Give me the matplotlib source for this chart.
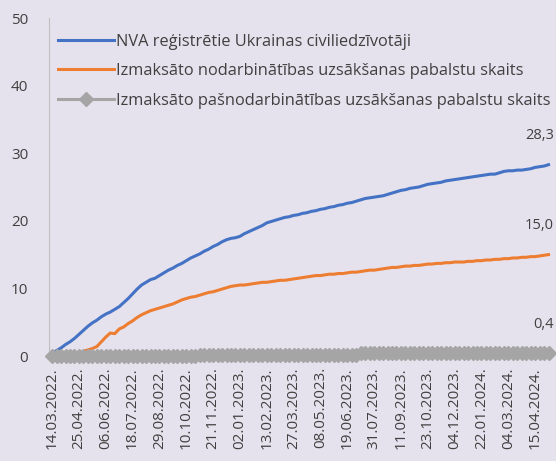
import matplotlib.pyplot as plt

# weekly series, thousands
nva = [0.4, 0.8, 1.2, 1.7, 2.1, 2.6, 3.2, 3.8, 4.4, 4.9,
       5.3, 5.8, 6.2, 6.5, 6.9, 7.3, 7.9, 8.5, 9.2, 9.9,
       10.5, 10.9, 11.3, 11.5, 11.9, 12.3, 12.7, 13.0, 13.4, 13.7,
       14.1, 14.5, 14.8, 15.1, 15.5, 15.8, 16.2, 16.5, 16.9, 17.2,
       17.4, 17.5, 17.7, 18.1, 18.4, 18.7, 19.0, 19.3, 19.7, 19.9,
       20.1, 20.3, 20.5, 20.6, 20.8, 20.9, 21.1, 21.2, 21.4, 21.5,
       21.7, 21.8, 22.0, 22.1, 22.3, 22.4, 22.6, 22.7, 22.9, 23.1,
       23.3, 23.4, 23.5, 23.6, 23.7, 23.9, 24.1, 24.3, 24.5, 24.6,
       24.8, 24.9, 25.0, 25.2, 25.4, 25.5, 25.6, 25.7, 25.9, 26.0,
       26.1, 26.2, 26.3, 26.4, 26.5, 26.6, 26.7, 26.8, 26.9, 26.9,
       27.1, 27.3, 27.4, 27.4, 27.5, 27.5, 27.6, 27.7, 27.9, 28.0,
       28.1, 28.3]
nodarb = [0.0, 0.0, 0.0, 0.0, 0.0, 0.0, 0.1, 0.7, 0.9, 1.1,
          1.4, 2.1, 2.8, 3.4, 3.3, 4.0, 4.3, 4.8, 5.2, 5.7,
          6.1, 6.4, 6.7, 6.9, 7.1, 7.3, 7.5, 7.7, 8.0, 8.3,
          8.5, 8.7, 8.8, 9.0, 9.2, 9.4, 9.5, 9.7, 9.9, 10.1,
          10.3, 10.4, 10.5, 10.5, 10.6, 10.7, 10.8, 10.9, 10.9, 11.0,
          11.1, 11.2, 11.2, 11.3, 11.4, 11.5, 11.6, 11.7, 11.8, 11.9,
          11.9, 12.0, 12.1, 12.1, 12.2, 12.2, 12.3, 12.4, 12.4, 12.5,
          12.6, 12.7, 12.7, 12.8, 12.9, 13.0, 13.1, 13.1, 13.2, 13.3,
          13.3, 13.4, 13.4, 13.5, 13.6, 13.6, 13.7, 13.7, 13.8, 13.8,
          13.9, 13.9, 13.9, 14.0, 14.0, 14.1, 14.1, 14.2, 14.2, 14.3,
          14.3, 14.4, 14.4, 14.5, 14.5, 14.6, 14.6, 14.7, 14.7, 14.8,
          14.9, 15.0]
pasnodarb = [0.0, 0.0, 0.0, 0.0, 0.0, 0.0, 0.0, 0.0, 0.0, 0.0,
             0.0, 0.0, 0.0, 0.0, 0.0, 0.0, 0.0, 0.0, 0.0, 0.0,
             0.0, 0.0, 0.0, 0.0, 0.0, 0.0, 0.0, 0.0, 0.0, 0.0,
             0.0, 0.0, 0.0, 0.2, 0.2, 0.2, 0.2, 0.2, 0.2, 0.2,
             0.2, 0.2, 0.2, 0.2, 0.2, 0.2, 0.2, 0.2, 0.2, 0.2,
             0.2, 0.2, 0.2, 0.2, 0.2, 0.2, 0.2, 0.2, 0.2, 0.2,
             0.2, 0.2, 0.2, 0.2, 0.2, 0.2, 0.2, 0.2, 0.2, 0.4,
             0.4, 0.4, 0.4, 0.4, 0.4, 0.4, 0.4, 0.4, 0.4, 0.4,
             0.4, 0.4, 0.4, 0.4, 0.4, 0.4, 0.4, 0.4, 0.4, 0.4,
             0.4, 0.4, 0.4, 0.4, 0.4, 0.4, 0.4, 0.4, 0.4, 0.4,
             0.4, 0.4, 0.4, 0.4, 0.4, 0.4, 0.4, 0.4, 0.4, 0.4,
             0.4, 0.4]
tick_labels = ['14.03.2022.', '25.04.2022.', '06.06.2022.', '18.07.2022.',
               '29.08.2022.', '10.10.2022.', '21.11.2022.', '02.01.2023.',
               '13.02.2023.', '27.03.2023.', '08.05.2023.', '19.06.2023.',
               '31.07.2023.', '11.09.2023.', '23.10.2023.', '04.12.2023.',
               '22.01.2024.', '04.03.2024.', '15.04.2024.']
names = ['NVA reģistrētie Ukrainas civiliedzīvotāji',
         'Izmaksāto nodarbinātības uzsākšanas pabalstu skaits',
         'Izmaksāto pašnodarbinātības uzsākšanas pabalstu skaits']

bg = '#E6E2ED'
txt = '#404040'
plt.rcParams['font.family'] = ['Open Sans', 'DejaVu Sans']

fig = plt.figure(figsize=(5.56, 4.61), dpi=100, facecolor=bg)
ax = fig.add_axes([49/556, 105/461, 504/556, 338/461], facecolor=bg)

x = list(range(len(nva)))
ax.plot(x, nva, color='#4472C4', lw=2.2, label=names[0], zorder=3)
ax.plot(x, nodarb, color='#ED7D31', lw=2.2, label=names[1], zorder=3)
ax.plot(x, pasnodarb, color='#A5A5A5', lw=2.2, marker='D', ms=7,
        label=names[2], clip_on=False, zorder=4)

for vals in (nva, nodarb, pasnodarb):
    ax.annotate(f'{vals[-1]:.1f}'.replace('.', ','), (x[-1], vals[-1]),
                xytext=(4, 21), textcoords='offset points', ha='right',
                va='center', fontsize=10.5, color=txt, annotation_clip=False)

ax.set_xlim(-0.7, 112)
ax.set_ylim(0, 50)
ax.set_yticks(range(0, 51, 10))
ax.set_xticks(range(0, 109, 6))
ax.set_xticklabels(tick_labels, rotation=90)
ax.tick_params(length=0, labelsize=11, labelcolor=txt)
ax.tick_params(axis='x', pad=8)
ax.tick_params(axis='y', pad=15)
for s in ['top', 'right', 'bottom']:
    ax.spines[s].set_visible(False)
ax.spines['left'].set_color('#BFBFBF')

ax.legend(loc='upper left', bbox_to_anchor=(0.005, 0.973), frameon=False,
          fontsize=11.8, handlelength=3.4, handletextpad=0.15,
          labelspacing=0.82, labelcolor=txt, borderaxespad=0)

fig.savefig('out.png', dpi=100, facecolor=bg)
